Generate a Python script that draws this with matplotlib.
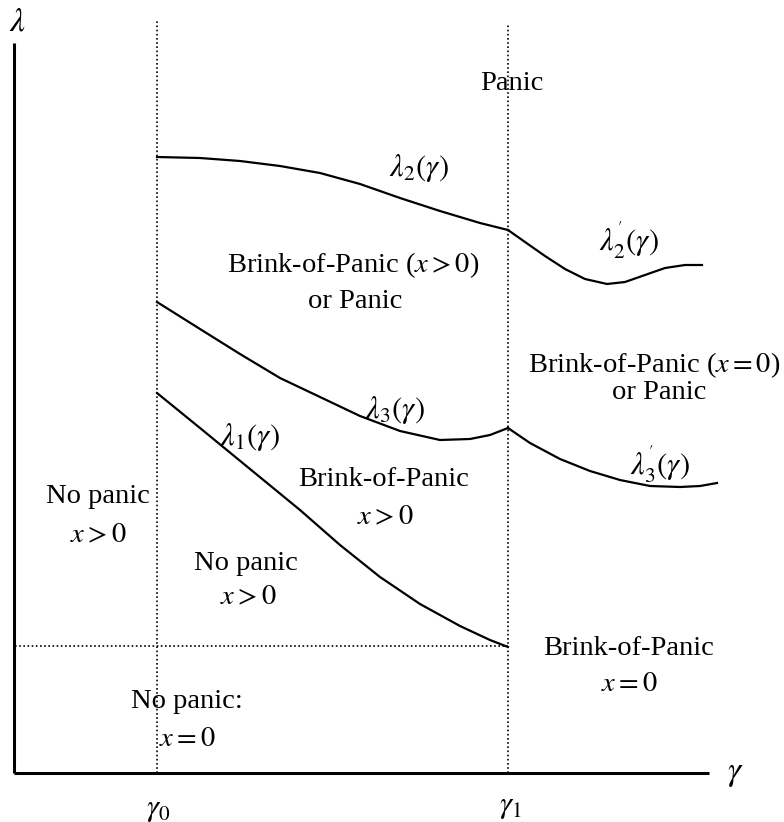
import matplotlib
matplotlib.use("Agg")
import matplotlib.pyplot as plt

plt.rcParams['font.family'] = ['Liberation Serif', 'DejaVu Serif']
plt.rcParams['mathtext.fontset'] = 'stix'

# Posiciones de referencia (unidades del esquema)
gamma0 = 143
gamma1 = 494
lam_low = 127

g_l2 = [143, 186, 226, 266, 306, 346, 386, 426, 466, 494]
l_l2 = [616, 615, 612, 607, 600, 589, 575, 562, 550, 543]

g_l2p = [494, 511, 531, 551, 571, 593, 611, 631, 651, 671, 688]
l_l2p = [543, 531, 517, 504, 494, 489, 491, 498, 505, 508, 508]

g_l3 = [143, 186, 226, 266, 306, 346, 386, 426, 456, 476, 494]
l_l3 = [471, 444, 419, 395, 376, 357, 342, 333, 334, 338, 345]

g_l3p = [494, 516, 546, 576, 606, 636, 666, 686, 703]
l_l3p = [345, 330, 314, 302, 293, 287, 286, 287, 290]

g_l1 = [143, 186, 236, 286, 326, 366, 406, 446, 476, 494]
l_l1 = [380, 345, 304, 263, 228, 196, 169, 147, 133, 126]

# Etiquetas de regiones
textos = ["Panic", "Brink-of-Panic ($x > 0$)", "or Panic",
          "Brink-of-Panic ($x = 0$)", "or Panic",
          "No panic", "$x > 0$", "Brink-of-Panic", "$x > 0$",
          "No panic", "$x > 0$", "Brink-of-Panic", "$x = 0$",
          "No panic:", "$x = 0$"]
tx = [498, 339, 341, 640, 645, 84, 84, 370, 371, 232, 234, 615, 615, 173, 173]
ty = [690, 508, 471, 408, 381, 277, 237, 294, 255, 210, 175, 125, 89, 72, 34]

curvas = [r"$\lambda_2(\gamma)$", r"$\lambda_2^{'}(\gamma)$", r"$\lambda_3(\gamma)$",
          r"$\lambda_1(\gamma)$", r"$\lambda_3^{'}(\gamma)$"]
cx = [405, 615, 381, 236, 646]
cy = [605, 533, 363, 336, 309]

fig = plt.figure(figsize=(7.84, 8.22), dpi=100)
ax = fig.add_axes([0, 0, 1, 1])
ax.set_xlim(-14, 770)
ax.set_ylim(-49, 773)
ax.axis('off')

# Ejes
ax.plot([0, 0], [0, 730], color='black', lw=2.2, solid_capstyle='butt')
ax.plot([0, 695], [0, 0], color='black', lw=2.2, solid_capstyle='butt')

# Lineas punteadas
ax.plot([gamma0, gamma0], [0, 753], color='black', lw=1.2, linestyle=(0, (1, 1.5)))
ax.plot([gamma1, gamma1], [0, 748], color='black', lw=1.2, linestyle=(0, (1, 1.5)))
ax.plot([1, gamma1], [lam_low, lam_low], color='black', lw=1.2, linestyle=(0, (1, 1.5)))

for g, l in [(g_l2, l_l2), (g_l2p, l_l2p), (g_l3, l_l3), (g_l3p, l_l3p), (g_l1, l_l1)]:
    ax.plot(g, l, color='black', lw=1.6, solid_joinstyle='round')

for t, x, y in zip(textos, tx, ty):
    ax.text(x, y, t, ha='center', va='center', fontsize=20.5)

for t, x, y in zip(curvas, cx, cy):
    ax.text(x, y, t, ha='center', va='center', fontsize=22)

# Nombres de ejes
ax.text(3, 751, r"$\lambda$", ha='center', va='center', fontsize=24)
ax.text(721, -1, r"$\gamma$", ha='center', va='center', fontsize=24)
ax.text(gamma0 + 1, -36, r"$\gamma_0$", ha='center', va='center', fontsize=22)
ax.text(gamma1 + 2, -33, r"$\gamma_1$", ha='center', va='center', fontsize=22)

plt.savefig("out.png", dpi=100)
